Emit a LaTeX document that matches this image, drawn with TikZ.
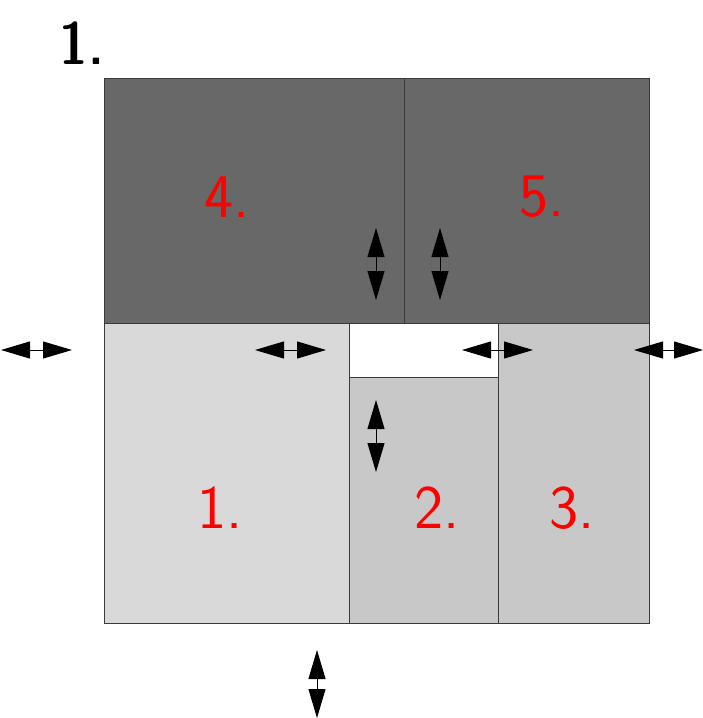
\documentclass[tikz,border=0pt]{standalone}
\usetikzlibrary{arrows.meta}
\definecolor{darkfill}{HTML}{686868}
\definecolor{lightfill}{HTML}{D9D9D9}
\definecolor{midfill}{HTML}{C8C8C8}
\definecolor{edgecol}{HTML}{3A3A3A}
\begin{document}
\begin{tikzpicture}[x=1pt,y=-1pt,
  region/.style={draw=edgecol,line width=1pt},
  dbl/.style={line width=1pt,{Triangle[length=29pt,width=17pt]}-{Triangle[length=29pt,width=17pt]}},
  lbl/.style={text=red,font=\sffamily\fontsize{62}{62}\selectfont,inner sep=0pt},
  ttl/.style={text=black,font=\sffamily\fontseries{sbc}\fontsize{60}{60}\selectfont,inner sep=0pt}]
\useasboundingbox (0,0) rectangle (703,718);
% regions
\fill[darkfill] (104,78) rectangle (649,323);
\draw[region] (104,78) rectangle (404,323);
\draw[region] (404,78) rectangle (649,323);
\filldraw[region,fill=lightfill] (104,323) rectangle (349,623);
\filldraw[region,fill=white] (349,323) rectangle (498,377);
\filldraw[region,fill=midfill] (349,377) rectangle (498,623);
\filldraw[region,fill=midfill] (498,323) rectangle (649,623);
% labels
\node[ttl] (t) at (82,43) {1.};
\node[lbl] (l4) at (227,197) {4.};
\node[lbl] (l5) at (542,197) {5.};
\node[lbl] (l1) at (220,508) {1.};
\node[lbl] (l2) at (437,508) {2.};
\node[lbl] (l3) at (572,508) {3.};
% arrows
\coordinate (h1a) at (1,350); \coordinate (h1b) at (72,350);
\coordinate (h2a) at (255,350); \coordinate (h2b) at (326,350);
\coordinate (h3a) at (462,350); \coordinate (h3b) at (533,350);
\coordinate (h4a) at (634,350); \coordinate (h4b) at (703,350);
\coordinate (v1a) at (376,228); \coordinate (v1b) at (376,300);
\coordinate (v2a) at (440,228); \coordinate (v2b) at (440,300);
\coordinate (v3a) at (376,400); \coordinate (v3b) at (376,472);
\coordinate (v4a) at (317,650); \coordinate (v4b) at (317,718);
\foreach \p in {h1,h2,h3,h4,v1,v2,v3,v4}
  \draw[dbl] (\p a) -- (\p b);
\end{tikzpicture}
\end{document}
